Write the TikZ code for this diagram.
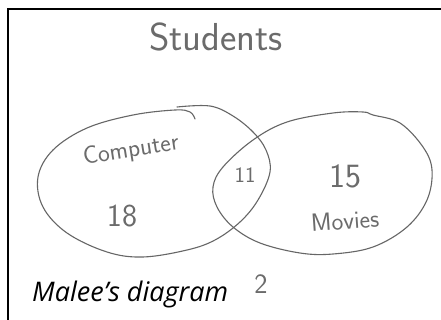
\documentclass[tikz,border=0pt]{standalone}
\usepackage{fontspec}
\newfontfamily\osans{Open Sans}
\begin{document}
\begin{tikzpicture}[x=1pt,y=-1pt,
  hand/.style={text=black!58,font=\sffamily,inner sep=0pt},
  ink/.style={draw=black!60,line width=1.1pt,line cap=round,line join=round}]
\useasboundingbox (0,0) rectangle (441,320);
\fill[white] (0,0) rectangle (441,320);
\draw[line width=1.6pt] (8,321) -- (8,9) -- (442,9);
% left set (Computer)
\draw[ink] plot[smooth,tension=0.6] coordinates {(195,119) (190,112) (175,110) (133,115) (87,128) (53,150) (38,177) (43,207) (67,233) (107,252) (143,257) (187,250) (215,240) (240,222) (258,200) (270,172) (266,150) (253,132) (233,116) (210,106) (177,107)};
% right set (Movies)
\draw[ink] plot[smooth cycle,tension=0.6] coordinates {(363,112) (333,113) (287,122) (253,140) (223,167) (213,187) (217,207) (233,227) (260,243) (300,253) (333,254) (373,247) (407,227) (427,200) (432,170) (423,147) (400,123) (373,115)};
\node[hand,font=\sffamily\fontsize{39}{39}\selectfont] (title) at (216,37) {Students};
\node[hand,rotate=9,font=\sffamily\fontsize{25}{25}\selectfont] (comp) at (131,151) {Computer};
\node[hand,font=\sffamily\fontsize{32}{32}\selectfont] (n18) at (122,216) {18};
\node[hand,font=\sffamily\fontsize{22}{22}\selectfont] (n11) at (245,175) {11};
\node[hand,font=\sffamily\fontsize{34}{34}\selectfont] (n15) at (345,176) {15};
\node[hand,rotate=4,font=\sffamily\fontsize{25}{25}\selectfont] (mov) at (345,221) {Movies};
\node[hand,font=\sffamily\fontsize{28}{28}\selectfont] (n2) at (261,284) {2};
\node[inner sep=0pt,anchor=base west,font=\osans\itshape\fontsize{27}{27}\selectfont] (cap) at (32,301) {Malee’s diagram};
\end{tikzpicture}
\end{document}
